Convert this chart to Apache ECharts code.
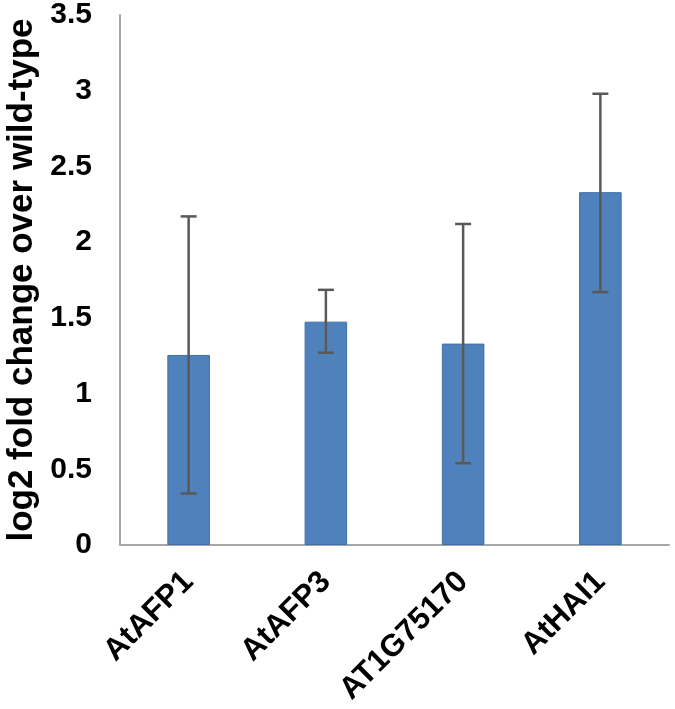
<!DOCTYPE html>
<html><head><meta charset="utf-8">
<script src="https://cdn.jsdelivr.net/npm/echarts@6/dist/echarts.min.js"></script>
<style>html,body{margin:0;padding:0;background:#fff}#c{width:675px;height:709px}</style>
</head><body><div id="c"></div>
<script>
const categories = ['AtAFP1', 'AtAFP3', 'AT1G75170', 'AtHAI1'];
const values = [1.255, 1.475, 1.33, 2.33];
const errLow = [0.34, 1.27, 0.54, 1.67];
const errHigh = [2.17, 1.685, 2.12, 2.98];
const yTicks = [0, 0.5, 1, 1.5, 2, 2.5, 3, 3.5];

const chart = echarts.init(document.getElementById('c'));
const font = 'Liberation Sans, Arial, sans-serif';
chart.setOption({
  animation: false,
  grid: {left: 120, right: 6, top: 15, bottom: 164, containLabel: false, outerBoundsMode: 'none'},
  xAxis: {
    type: 'category', data: categories,
    axisLine: {lineStyle: {color: '#a6a6a6', width: 2}},
    axisTick: {show: false},
    axisLabel: {rotate: 45, margin: 32, color: '#000', fontSize: 31, fontWeight: 'bold', fontFamily: font}
  },
  yAxis: {
    type: 'value', min: 0, max: 3.5, interval: 0.5,
    name: 'log2 fold change over wild-type', nameLocation: 'middle', nameGap: 78,
    nameTextStyle: {color: '#000', fontSize: 35, fontWeight: 'bold', fontFamily: font},
    axisLine: {show: true, lineStyle: {color: '#a6a6a6', width: 2}},
    axisTick: {show: false},
    splitLine: {show: false},
    axisLabel: {margin: 28, color: '#000', fontSize: 30, fontWeight: 'bold', fontFamily: font,
      formatter: v => yTicks.includes(v) ? String(v) : ''}
  },
  series: [
    {type: 'bar', data: values, barWidth: '31%',
     itemStyle: {color: '#4F81BD', borderColor: '#3f6fa8', borderWidth: 1}},
    {type: 'custom',
     data: categories.map((c, i) => [i, errLow[i], errHigh[i]]),
     renderItem: function (params, api) {
       const lo = api.coord([api.value(0), api.value(1)]);
       const hi = api.coord([api.value(0), api.value(2)]);
       const hw = 8;
       const style = {stroke: '#595959', lineWidth: 2.5};
       return {type: 'group', children: [
         {type: 'line', shape: {x1: lo[0], y1: lo[1], x2: hi[0], y2: hi[1]}, style: style},
         {type: 'line', shape: {x1: hi[0] - hw, y1: hi[1], x2: hi[0] + hw, y2: hi[1]}, style: style},
         {type: 'line', shape: {x1: lo[0] - hw, y1: lo[1], x2: lo[0] + hw, y2: lo[1]}, style: style}
       ]};
     }, z: 10}
  ]
});
</script></body></html>
